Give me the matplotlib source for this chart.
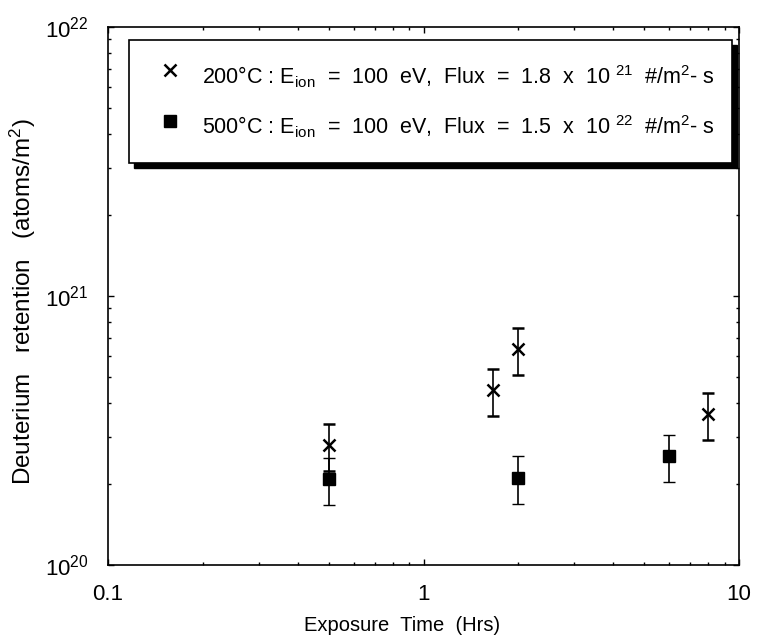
import numpy as np
import matplotlib
matplotlib.use("Agg")
from matplotlib import pyplot as plt
from matplotlib.patches import Rectangle
from matplotlib.ticker import LogLocator, FixedLocator, FixedFormatter, NullFormatter

plt.rcParams['font.family'] = ['Liberation Sans', 'DejaVu Sans']
plt.rcParams['mathtext.fontset'] = 'custom'
plt.rcParams['mathtext.rm'] = 'Liberation Sans'
plt.rcParams['mathtext.it'] = 'Liberation Sans'
plt.rcParams['mathtext.bf'] = 'Liberation Sans:bold'
plt.rcParams['mathtext.default'] = 'rm'

# 200 C data (crosses)
t_200 = [0.5, 1.66, 2.0, 8.0]
ret_200 = [2.79e20, 4.47e20, 6.35e20, 3.64e20]
# 500 C data (squares)
t_500 = [0.5, 2.0, 6.0]
ret_500 = [2.09e20, 2.11e20, 2.54e20]
err_frac = 0.2  # +/- 20 %

x_ticks = [0.1, 1, 10]
x_ticklabels = ["0.1", "1", "10"]
y_ticks = [1e20, 1e21, 1e22]
y_ticklabels = [r"$10^{20}$", r"$10^{21}$", r"$10^{22}$"]

legend_labels = [
    r"200°C : E$_{\rm ion}$  =  100  eV,  Flux  =  1.8  x  10 $^{21}$  #/m$^2$- s",
    r"500°C : E$_{\rm ion}$  =  100  eV,  Flux  =  1.5  x  10 $^{22}$  #/m$^2$- s",
]

fig = plt.figure(figsize=(7.57, 6.37), dpi=100)
ax = fig.add_axes([0.1427, 0.1130, 0.8335, 0.8446])

r2 = np.array(ret_200)
r5 = np.array(ret_500)
ax.errorbar(t_200, r2, yerr=[r2 * err_frac, r2 * err_frac], fmt='x', color='black',
            ms=8, mew=1.8, elinewidth=1.2, capsize=4, capthick=1.2)
ax.errorbar(t_500, r5, yerr=[r5 * err_frac, r5 * err_frac], fmt='s', color='black',
            ms=8, mew=1, elinewidth=1.2, capsize=4, capthick=1.2)

ax.set_xscale('log')
ax.set_yscale('log')
ax.set_xlim(0.1, 10)
ax.set_ylim(1e20, 1e22)

ax.xaxis.set_major_locator(FixedLocator(x_ticks))
ax.xaxis.set_major_formatter(FixedFormatter(x_ticklabels))
ax.yaxis.set_major_locator(FixedLocator(y_ticks))
ax.yaxis.set_major_formatter(FixedFormatter(y_ticklabels))
ax.xaxis.set_minor_locator(LogLocator(base=10, subs=np.arange(2, 10)))
ax.yaxis.set_minor_locator(LogLocator(base=10, subs=np.arange(2, 10)))
ax.xaxis.set_minor_formatter(NullFormatter())
ax.yaxis.set_minor_formatter(NullFormatter())

ax.tick_params(which='both', direction='in', top=True, right=True, width=1.0)
ax.tick_params(which='major', length=4, labelsize=16)
ax.tick_params(which='minor', length=2.5)
ax.tick_params(axis='x', pad=14)
ax.tick_params(axis='y', pad=14)
for s in ax.spines.values():
    s.set_linewidth(1.2)

ax.set_xlabel("Exposure  Time  (Hrs)", fontsize=14.5)
ax.xaxis.set_label_coords(0.466, -0.095)
ax.set_ylabel("Deuterium   retention   (atoms/m$^2$)", fontsize=17.5)
ax.yaxis.set_label_coords(-0.111, 0.49)

# legend box with black drop shadow
lx0, lx1, ly0, ly1 = 0.0333, 0.989, 0.747, 0.976
dx, dy = 5 / 631, 5 / 538
ax.add_patch(Rectangle((lx0 + dx, ly0 - dy), lx1 - lx0, ly1 - ly0, transform=ax.transAxes,
                       facecolor='black', edgecolor='black', zorder=5))
ax.add_patch(Rectangle((lx0, ly0), lx1 - lx0, ly1 - ly0, transform=ax.transAxes,
                       facecolor='white', edgecolor='black', linewidth=1.2, zorder=6))
ax.plot([0.098], [0.920], 'x', color='black', ms=8, mew=1.8, transform=ax.transAxes,
        clip_on=False, zorder=7)
ax.plot([0.098], [0.825], 's', color='black', ms=8, transform=ax.transAxes,
        clip_on=False, zorder=7)
ax.text(0.149, 0.894, legend_labels[0], transform=ax.transAxes, fontsize=15.5,
        va='baseline', ha='left', zorder=7)
ax.text(0.149, 0.801, legend_labels[1], transform=ax.transAxes, fontsize=15.5,
        va='baseline', ha='left', zorder=7)

plt.savefig('out.png', dpi=100)
